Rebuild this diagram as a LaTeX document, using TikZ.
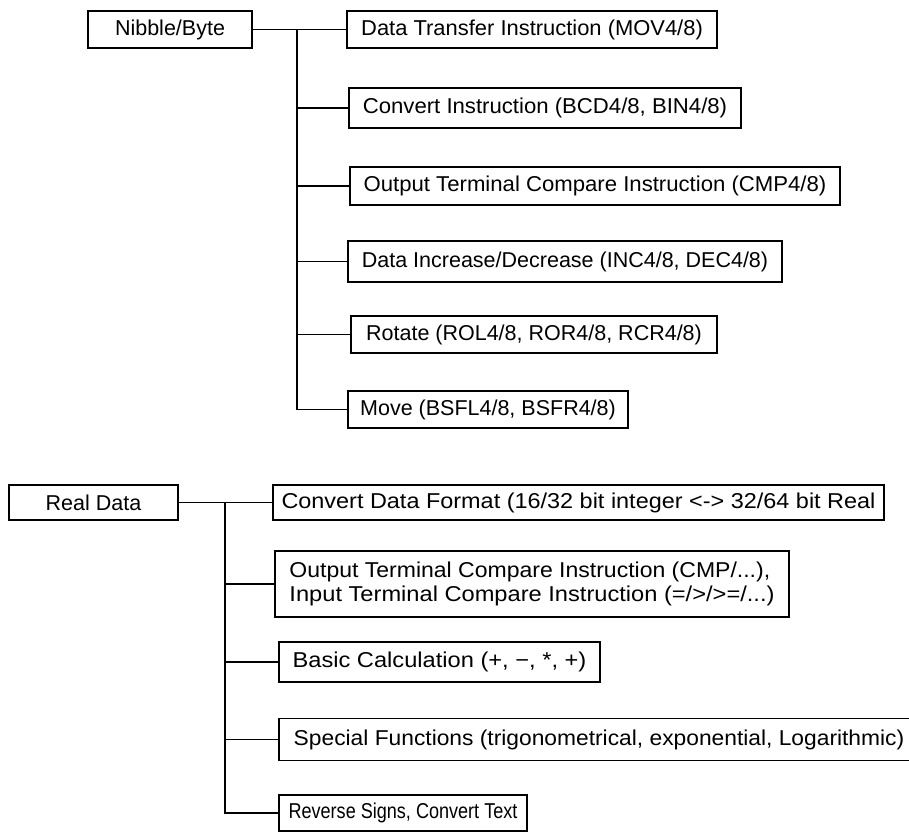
\documentclass[tikz,border=0pt]{standalone}
\usepackage{fontspec}
\setmainfont{Liberation Sans}
% horizontal-only scaling of a label
\newcommand\hsc[2]{\scalebox{#1}[1]{#2}}
\begin{document}
\begin{tikzpicture}[x=1pt,y=-1pt,
  box/.style={draw=black, line width=1.4pt, inner sep=0pt, font=\fontsize{21.5}{24.5}\selectfont},
  link/.style={draw=black, line width=1.4pt}]
\useasboundingbox (0,0) rectangle (909,832);

% ---- Nibble/Byte group ----
\node[box, minimum width=164, minimum height=37] (nb) at (170,29.5) {Nibble/Byte};
\node[box, minimum width=370, minimum height=37] (t1) at (532,29.5) {\hsc{1.02}{Data Transfer Instruction (MOV4/8)}};
\node[box, minimum width=392, minimum height=40] (t2) at (545,108) {\hsc{1.03}{Convert Instruction (BCD4/8, BIN4/8)}};
\node[box, minimum width=490, minimum height=38] (t3) at (595,186) {\hsc{1.03}{Output Terminal Compare Instruction (CMP4/8)}};
\node[box, minimum width=434, minimum height=41] (t4) at (565,261.5) {Data Increase/Decrease (INC4/8, DEC4/8)};
\node[box, minimum width=366, minimum height=37] (t5) at (534,334.5) {Rotate (ROL4/8, ROR4/8, RCR4/8)};
\node[box, minimum width=280, minimum height=37] (t6) at (488,409.5) {Move (BSFL4/8, BSFR4/8)};

\coordinate (j1) at (297,29.5);
\draw[link] (nb.east) -- (t1.west);
\draw[link] (j1) |- (t6.west);
\foreach \n in {t2,t3,t4,t5} \draw[link] (j1 |- \n.west) -- (\n.west);

% ---- Real Data group ----
\node[box, minimum width=169, minimum height=35] (rd) at (93.5,502.5) {Real Data};
\node[box, minimum width=611, minimum height=35] (b1) at (578.5,502.5) {\hsc{1.09}{Convert Data Format (16/32 bit integer <-> 32/64 bit Real}};
\node[box, minimum width=514, minimum height=66, align=left] (b2) at (532,584)
  {\hsc{1.07}{Output Terminal Compare Instruction (CMP/...),}\\\hsc{1.1}{Input Terminal Compare Instruction (=/>/>=/...)}};
\node[box, minimum width=321, minimum height=40] (b3) at (439.5,662) {\hsc{1.1}{Basic Calculation (+, −, *, +)}};
\node[box, minimum width=640, minimum height=42] (b4) at (599,739.5) {\hsc{1.06}{Special Functions (trigonometrical, exponential, Logarithmic)}};
\node[box, minimum width=248, minimum height=36] (b5) at (403,813) {\hsc{0.84}{Reverse Signs, Convert Text}};

\coordinate (j2) at (225,502.5);
\draw[link] (rd.east) -- (b1.west);
\draw[link] (j2) |- (b5.west);
\foreach \n in {b2,b3,b4} \draw[link] (j2 |- \n.west) -- (\n.west);
\end{tikzpicture}
\end{document}
